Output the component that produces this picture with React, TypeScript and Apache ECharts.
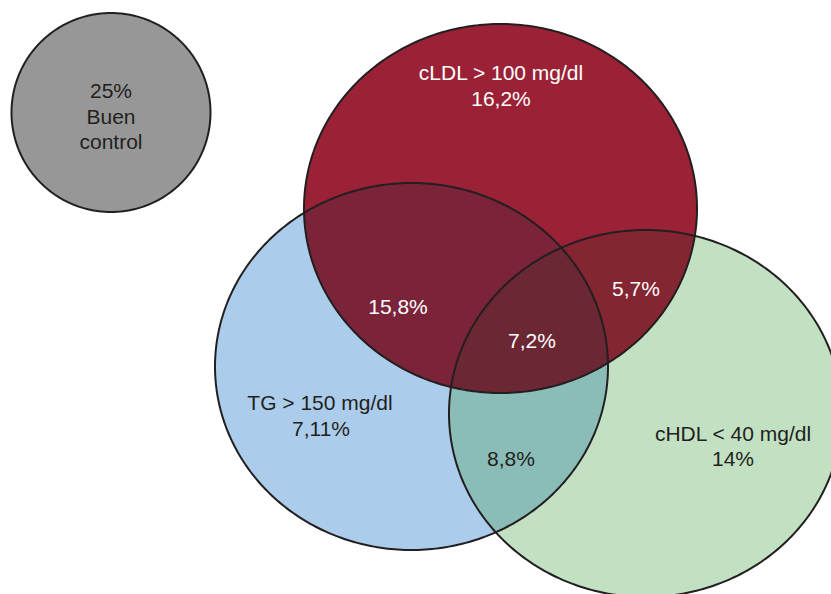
import React, { useEffect, useRef } from "react";
import * as echarts from "echarts";

// ---- data ----
const setNames = ["cLDL > 100 mg/dl", "TG > 150 mg/dl", "cHDL < 40 mg/dl"];
const setOnlyValues = [16.2, 7.11, 14];
// pairs: [cLDL∩TG, cLDL∩cHDL, TG∩cHDL]
const pairValues = [15.8, 5.7, 8.8];
const tripleValue = 7.2;
const controlValue = 25;
const controlLabel = ["Buen", "control"];

// ---- layout (pixel space of the 831 x 594 canvas) ----
const W = 831;
const H = 594;
const ELLIPSES = [
  { cx: 500.5, cy: 208.5, rx: 196.5, ry: 184.5 }, // cLDL (red)
  { cx: 411.5, cy: 366.5, rx: 196.5, ry: 183.5 }, // TG (blue)
  { cx: 645.5, cy: 413.5, rx: 196.5, ry: 183.5 }, // cHDL (green)
];
const CONTROL = { cx: 111, cy: 112.5, r: 99.5 };
const SET_COLORS = ["#9b2236", "#abcdeb", "#c2e1c3"];
const PAIR_COLORS = ["#7a2339", "#842532", "#8abdb7"];
const TRIPLE_COLOR = "#6b2834";
const CONTROL_COLOR = "#979797";
const STROKE = "#231f20";
const DARK = "#231f20";
const LIGHT = "#ffffff";
const FONT = "'Liberation Sans', Arial, Helvetica, sans-serif";
const FS = 21;

const fmt = (v: number) => String(v).replace(".", ",") + "%";

type Pt = [number, number];

function ellipsePts(cx: number, cy: number, rx: number, ry: number, n = 360): Pt[] {
  const pts: Pt[] = [];
  for (let i = 0; i < n; i++) {
    const t = (i / n) * Math.PI * 2;
    pts.push([cx + rx * Math.cos(t), cy + ry * Math.sin(t)]);
  }
  return pts;
}

function clip(subject: Pt[], clipPoly: Pt[]): Pt[] {
  let output = subject;
  for (let i = 0; i < clipPoly.length; i++) {
    const a = clipPoly[i];
    const b = clipPoly[(i + 1) % clipPoly.length];
    const input = output;
    output = [];
    if (!input.length) break;
    const inside = (p: Pt) => (b[0] - a[0]) * (p[1] - a[1]) - (b[1] - a[1]) * (p[0] - a[0]) >= 0;
    const inter = (p: Pt, q: Pt): Pt => {
      const x1 = p[0], y1 = p[1], x2 = q[0], y2 = q[1];
      const x3 = a[0], y3 = a[1], x4 = b[0], y4 = b[1];
      const den = (x1 - x2) * (y3 - y4) - (y1 - y2) * (x3 - x4);
      const t = ((x1 - x3) * (y3 - y4) - (y1 - y3) * (x3 - x4)) / den;
      return [x1 + t * (x2 - x1), y1 + t * (y2 - y1)];
    };
    for (let j = 0; j < input.length; j++) {
      const cur = input[j];
      const prev = input[(j + input.length - 1) % input.length];
      const cIn = inside(cur);
      const pIn = inside(prev);
      if (cIn) {
        if (!pIn) output.push(inter(prev, cur));
        output.push(cur);
      } else if (pIn) {
        output.push(inter(prev, cur));
      }
    }
  }
  return output;
}

// text positions (cap centers) per label
const SET_LABEL_POS: Pt[][] = [
  [[501, 72.5], [501, 98]],
  [[320, 402], [321, 428]],
  [[733, 433], [733, 458.5]],
];
const PAIR_LABEL_POS: Pt[] = [[398, 306], [636, 288], [511, 458]];
const TRIPLE_POS: Pt = [532, 340];
const CONTROL_POS: Pt[] = [[111, 90], [111, 116], [111, 141]];

export default function App() {
  const ref = useRef<HTMLDivElement>(null);
  useEffect(() => {
    if (!ref.current) return;
    const chart = echarts.init(ref.current, undefined, { renderer: "svg" });

    const renderItem = (_params: any, api: any) => {
      const toPx = (pts: Pt[]) => pts.map((p) => api.coord(p));
      const polys = ELLIPSES.map((e) => ellipsePts(e.cx, e.cy, e.rx, e.ry));
      const ctrl = ellipsePts(CONTROL.cx, CONTROL.cy, CONTROL.r, CONTROL.r);
      const children: any[] = [];
      const fillPoly = (pts: Pt[], fill: string) =>
        children.push({ type: "polygon", shape: { points: toPx(pts) }, style: { fill, stroke: null } });

      fillPoly(ctrl, CONTROL_COLOR);
      fillPoly(polys[1], SET_COLORS[1]);
      fillPoly(polys[2], SET_COLORS[2]);
      fillPoly(polys[0], SET_COLORS[0]);
      const pairIdx = [[0, 1], [0, 2], [1, 2]];
      pairIdx.forEach(([a, b], k) => fillPoly(clip(polys[a], polys[b]), PAIR_COLORS[k]));
      fillPoly(clip(clip(polys[0], polys[1]), polys[2]), TRIPLE_COLOR);

      [ctrl, ...polys].forEach((pts) =>
        children.push({
          type: "polygon",
          shape: { points: toPx(pts) },
          style: { fill: null, stroke: STROKE, lineWidth: 2 },
        })
      );

      const text = (s: string, p: Pt, fill: string) => {
        const c = api.coord(p);
        children.push({
          type: "text",
          x: c[0],
          y: c[1],
          style: {
            text: s,
            fill,
            fontSize: FS,
            fontFamily: FONT,
            align: "center",
            verticalAlign: "middle",
          },
        });
      };

      text(fmt(controlValue), CONTROL_POS[0], DARK);
      text(controlLabel[0], CONTROL_POS[1], DARK);
      text(controlLabel[1], CONTROL_POS[2], DARK);
      setNames.forEach((name, i) => {
        const col = i === 0 ? LIGHT : DARK;
        text(name, SET_LABEL_POS[i][0], col);
        text(fmt(setOnlyValues[i]), SET_LABEL_POS[i][1], col);
      });
      pairValues.forEach((v, k) => text(fmt(v), PAIR_LABEL_POS[k], k === 2 ? DARK : LIGHT));
      text(fmt(tripleValue), TRIPLE_POS, LIGHT);

      return { type: "group", children };
    };

    chart.setOption({
      animation: false,
      backgroundColor: "#ffffff",
      grid: { left: 0, right: 0, top: 0, bottom: 0, containLabel: false },
      xAxis: { type: "value", min: 0, max: W, show: false },
      yAxis: { type: "value", min: 0, max: H, inverse: true, show: false },
      series: [
        {
          type: "custom",
          coordinateSystem: "cartesian2d",
          clip: false,
          silent: true,
          data: [[0, 0]],
          renderItem,
        },
      ],
    });
    return () => chart.dispose();
  }, []);

  return (
    <div
      ref={ref}
      style={{ position: "fixed", left: 0, top: 0, width: W, height: H }}
    />
  );
}
